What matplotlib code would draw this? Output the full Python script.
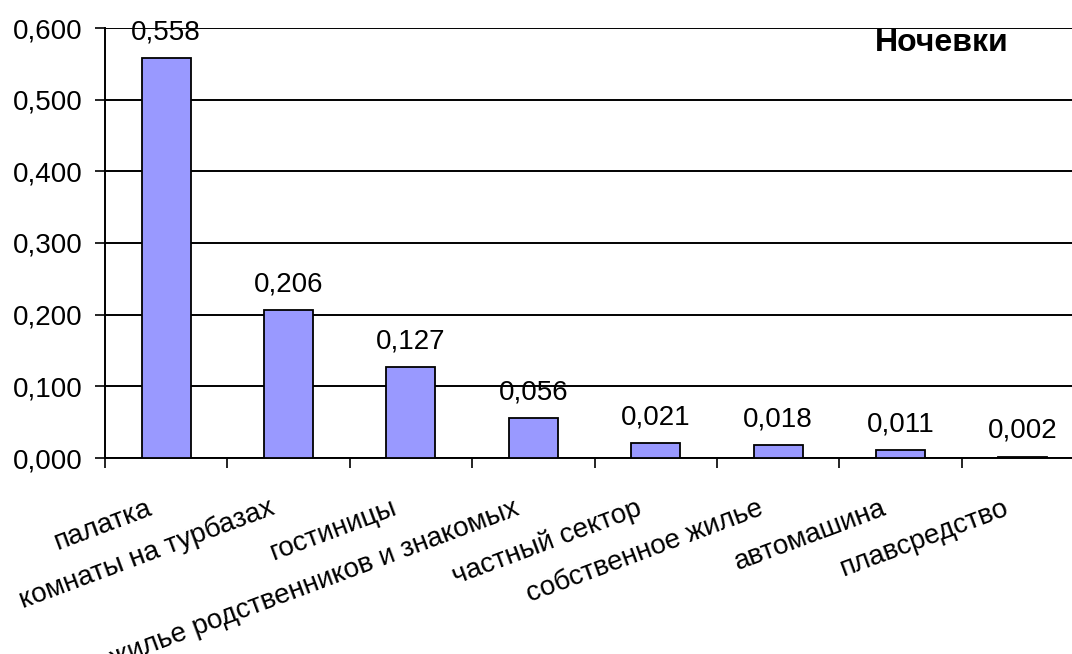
import numpy as np
import matplotlib
matplotlib.use("Agg")
import matplotlib.pyplot as plt
import matplotlib.transforms as mtransforms
from matplotlib.ticker import FuncFormatter, FixedLocator

plt.rcParams['font.family'] = ['Liberation Sans', 'DejaVu Sans']

# данные
categories = ["палатка", "комнаты на турбазах", "гостиницы",
              "жилье родственников и знакомых", "частный сектор",
              "собственное жилье", "автомашина", "плавсредство"]
values = [0.558, 0.206, 0.127, 0.056, 0.021, 0.018, 0.011, 0.002]
yticks = [0.0, 0.1, 0.2, 0.3, 0.4, 0.5, 0.6]
title = "Ночевки"

fs = 20

fig = plt.figure(figsize=(10.72, 6.54), dpi=100)
# правая часть диаграммы обрезана краем картинки
ax = fig.add_axes([105 / 1072, 196 / 654, 979 / 1072, 430 / 654])

x = np.arange(len(categories))
ax.bar(x, values, width=0.4, color="#9999FF", edgecolor="black", linewidth=1.3, zorder=3)

for xi, v in zip(x, values):
    ax.annotate(f"{v:.3f}".replace(".", ","), (xi, v), xytext=(0, 13.5),
                textcoords="offset points", ha="center", va="baseline", fontsize=fs)

ax.set_xlim(-0.5, len(categories) - 0.5)
ax.set_ylim(0, 0.6)
ax.set_yticks(yticks)
ax.yaxis.set_major_formatter(FuncFormatter(lambda v, p: f"{v:.3f}".replace(".", ",")))
ax.grid(axis="y", color="black", linewidth=1.4, zorder=0)

# деления между категориями
ax.xaxis.set_major_locator(FixedLocator(np.arange(len(categories) + 1) - 0.5))
ax.set_xticklabels([])
ax.tick_params(axis="x", length=7, width=1.2, direction="out")
ax.tick_params(axis="y", length=7, width=1.2, labelsize=fs, pad=9)

# подписи категорий под наклоном
offs = mtransforms.offset_copy(ax.get_xaxis_transform(), fig=fig, x=-13, y=-56, units="dots")
for xi, name in zip(x, categories):
    ax.text(xi, 0, name, transform=offs, rotation=20.5, rotation_mode="anchor",
            ha="right", va="baseline", fontsize=fs)

for s in ["top", "right"]:
    ax.spines[s].set_visible(False)
for s in ["left", "bottom"]:
    ax.spines[s].set_linewidth(1.4)

ax.text((942 - 105) / 979, 0.965, title, transform=ax.transAxes,
        ha="center", va="center", fontsize=23, fontweight="bold")

fig.savefig("out.png", dpi=100)
